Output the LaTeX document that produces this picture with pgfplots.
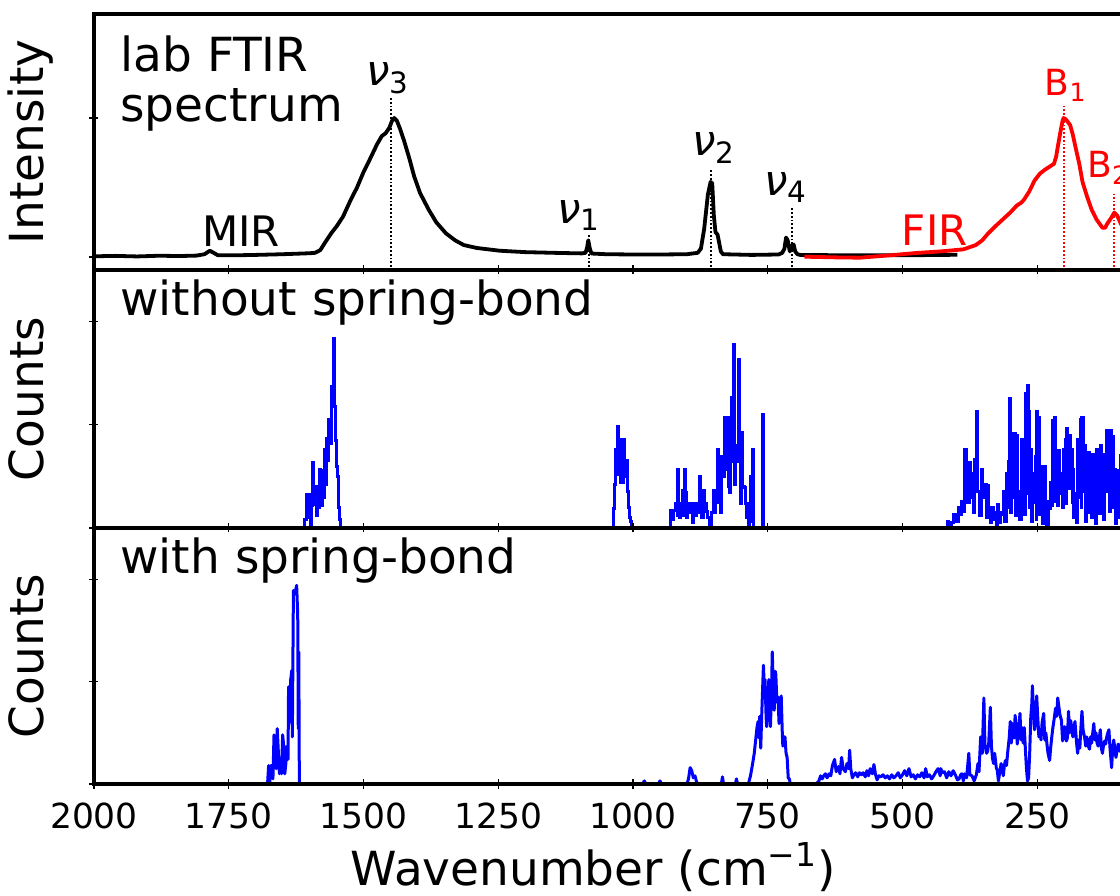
\documentclass[border=0pt]{standalone}
\usepackage{pgfplots}
\pgfplotsset{compat=1.18}
\usepackage{fontspec}
\setmainfont{DejaVu Sans}
\definecolor{pblue}{RGB}{0,0,255}
\definecolor{pred}{RGB}{255,0,0}
\newcommand{\bigf}{\fontsize{23.5}{27}\selectfont}
\newcommand{\annf}{\fontsize{21}{24}\selectfont}
\newcommand{\Bfont}{\fontsize{18}{21}\selectfont}
\newcommand{\tickf}{\fontsize{17.25}{20}\selectfont}
\newcommand{\nus}[1]{\textit{ν}\textsubscript{#1}}
\pgfplotsset{
  panel/.style={
    scale only axis, width=539pt,
    x dir=reverse, xmin=0, xmax=2000,
    xtick={250,500,...,2000},
    axis line style={line width=2pt},
    tick align=center, major tick length=4.5pt,
    every tick/.style={black, line width=0.7pt},
    xtick pos=left, ytick pos=left,
    yticklabels={},
    axis on top,
    /pgf/number format/1000 sep={},
    /pgf/number format/assume math mode=true,
    xticklabel style={font=\tickf, inner sep=0pt, anchor=north, yshift=-7pt},
    every axis y label/.style={at={(rel axis cs:0,0.5)}, xshift=-25pt, rotate=90, anchor=south, inner sep=0pt, text depth=0pt, font=\bigf},
    every axis x label/.style={at={(rel axis cs:0.463,0)}, anchor=base, yshift=-50.5pt, font=\bigf, inner sep=0pt},
  },
  blueh/.style={pblue, line width=1.5pt, const plot, line join=miter},
  bluel/.style={pblue, line width=1.5pt, line join=round},
}
\begin{document}
\begin{tikzpicture}
% ---------------- panel 1 ----------------
\begin{axis}[panel, at={(47pt,312.5pt)}, anchor=south west, height=128pt,
  ymin=-0.0935, ymax=1.748, ytick={0,1}, xticklabels={}, ylabel={Intensity}]
\addplot[black, line width=1.9pt, line join=round] coordinates {
(2000,0.005) (1960,0.008) (1920,0.004) (1880,0.009) (1840,0.007) (1810,0.010)
(1795,0.02) (1785,0.045) (1778,0.03) (1770,0.012) (1740,0.012) (1700,0.015)
(1650,0.02) (1600,0.027) (1590,0.03) (1580,0.05) (1572,0.10) (1560,0.17)
(1550,0.22) (1538,0.29) (1525,0.40) (1512,0.50) (1500,0.61) (1486,0.72)
(1475,0.81) (1466,0.87) (1459,0.89) (1452,0.93) (1447,0.98) (1443,1.00)
(1438,0.98) (1432,0.92) (1425,0.84) (1415,0.71) (1406,0.58) (1395,0.46)
(1379,0.34) (1365,0.25) (1347,0.17) (1330,0.12) (1314,0.086) (1290,0.065)
(1247,0.045) (1200,0.035) (1136,0.029) (1095,0.026) (1088,0.03) (1085,0.07)
(1083,0.12) (1080,0.06) (1077,0.025) (1050,0.02) (1000,0.018) (950,0.018)
(900,0.02) (880,0.03) (874,0.06) (868,0.2) (861,0.45) (856,0.54) (853,0.53)
(850,0.30) (847,0.18) (843,0.16) (840,0.10) (837,0.04) (833,0.02) (780,0.015)
(730,0.018) (723,0.03) (719,0.06) (716,0.14) (713,0.12) (709,0.04) (705,0.08)
(702,0.09) (699,0.04) (695,0.02) (690,0.015) (600,0.012) (500,0.012) (398,0.016)
};
\addplot[pred, line width=1.9pt, line join=round] coordinates {
(682,0.002) (620,-0.003) (579,-0.005) (530,0.01) (474,0.029) (430,0.04)
(387,0.055) (364,0.086) (352,0.12) (341,0.17) (328,0.22) (314,0.27) (300,0.32)
(288,0.37) (280,0.39) (275,0.41) (265,0.47) (255,0.55) (245,0.60) (235,0.63)
(225,0.655) (219,0.67) (215,0.72) (212,0.79) (207,0.90) (203,0.98) (201,1.00)
(197,0.99) (189,0.95) (184,0.88) (179,0.79) (172,0.67) (166,0.54) (158,0.44)
(149,0.34) (140,0.27) (129,0.21) (124,0.21) (120,0.24) (113,0.28) (107,0.32)
(102,0.30) (95,0.24) (85,0.18) (70,0.15) (50,0.12)
};
% marker lines
\addplot[black, densely dotted, line width=0.9pt] coordinates {(1449,-0.1) (1449,1.15)};
\addplot[black, densely dotted, line width=0.9pt] coordinates {(1081,-0.1) (1081,0.17)};
\addplot[black, densely dotted, line width=0.9pt] coordinates {(855,-0.1) (855,0.63)};
\addplot[black, densely dotted, line width=0.9pt] coordinates {(705,-0.1) (705,0.36)};
\addplot[pred, densely dotted, line width=0.9pt] coordinates {(201,-0.1) (201,1.10)};
\addplot[pred, densely dotted, line width=0.9pt] coordinates {(107,-0.1) (107,0.45)};
\node[anchor=south, inner sep=1.5pt, font=\annf] at (axis cs:1455,1.15) {\nus{3}};
\node[anchor=south, inner sep=1pt, font=\annf] at (axis cs:1100,0.17) {\nus{1}};
\node[anchor=south, inner sep=3pt, font=\annf] at (axis cs:850,0.63) {\nus{2}};
\node[anchor=south, inner sep=2pt, font=\annf] at (axis cs:716,0.36) {\nus{4}};
\node[anchor=south, inner sep=1pt, font=\Bfont, text=pred] at (axis cs:197,1.10) {B\textsubscript{1}};
\node[anchor=south, inner sep=5pt, font=\Bfont, text=pred] at (axis cs:118,0.45) {B\textsubscript{2}};
\node[anchor=base, inner sep=0pt, font=\annf] at (axis cs:1727,0.072) {MIR};
\node[anchor=base, inner sep=0pt, font=\annf, text=pred] at (axis cs:440,0.086) {FIR};
\node[anchor=base west, inner sep=0pt, font=\bigf] at (rel axis cs:0,1) [xshift=13pt, yshift=-29pt] {lab FTIR};
\node[anchor=base west, inner sep=0pt, font=\bigf] at (rel axis cs:0,1) [xshift=13pt, yshift=-54pt] {spectrum};
\end{axis}
% ---------------- panel 2 ----------------
\begin{axis}[panel, at={(47pt,183.5pt)}, anchor=south west, height=129pt,
  ymin=0, ymax=25, ytick={0,10,20}, xticklabels={}, ylabel={Counts}]
\addplot[blueh] coordinates {
(1612,0) (1610,0.8) (1608,0.8) (1606,3.2) (1604,1) (1602,3.2) (1600,2) (1598,0)
(1596,2.2) (1594,6.3) (1592,2.3) (1590,4) (1588,1.2) (1586,3.2) (1584,2) (1582,5.7)
(1580,5) (1578,2.2) (1576,5.6) (1574,3) (1572,7.6) (1570,4.2) (1568,8.7) (1566,6.5)
(1564,10.5) (1562,8.2) (1560,13.7) (1558,13) (1556,18.4) (1554,11.8) (1552,8.5)
(1550,6) (1548,5) (1546,2) (1544,0.8) (1542,0)
};
\addplot[blueh] coordinates {
(1039,0) (1037,1.9) (1035,4.2) (1033,7.6) (1031,5.2) (1029,9.8) (1027,8.6) (1025,8.6)
(1023,4.4) (1021,6.2) (1019,4.4) (1017,8.6) (1015,5) (1013,6.5) (1011,3.5) (1009,2)
(1007,1) (1005,0.6) (1003,0)
};
\addplot[blueh] coordinates {
(932,0) (930,1.7) (927,0.8) (924,1.7) (921,2.4) (918,1.2) (917,5.7) (915,2.4) (913,1)
(911,2.4) (909,3.6) (906,1.2) (904,5.7) (902,3.4) (900,1) (898,2.4) (895,1.5) (892,2.4)
(890,0.5) (888,2.4) (885,1.2) (882,2.4) (880,1.5) (877,5) (875,2.4) (872,1) (870,3.6)
(867,2.4) (864,1.6) (861,1) (858,0) (855,1.5) (851,3.6) (848,1.5) (846,2.5) (844,7.6)
(842,3) (840,5.7) (838,1.5) (836,6.9) (834,5) (831,10.7) (829,6) (827,5.7) (825,10.7)
(823,4) (821,3.4) (819,8) (818,12.6) (816,6.4) (814,13.5) (813,17.8) (811,4.2) (809,8)
(806,6.4) (804,16.3) (802,7) (800,2.4) (798,9.3) (796,4) (794,3.9) (792,2.4) (790,1)
(788,2.4) (786,0) (784,0.6) (782,5) (780,3) (778,7.6) (776,0) (761,0) (760,11) (758,0)
};
\addplot[blueh] coordinates {
(420,0) (417,0.6) (414,0) (410,0.5) (405,1.3) (400,0.6) (396,2) (393,1.3) (390,2.6)
(387,1.6) (385,7.6) (382,4) (379,2.5) (376,6.3) (373,3) (371,5.3) (368,1.5) (366,6.6)
(363,11.3) (360,3.5) (357,1.2) (354,5.7) (351,3) (348,4.2) (345,1) (343,4.1) (340,2)
(337,0.5) (335,2) (332,0.8) (329,1.5) (326,0.3) (324,2.3) (321,0.5) (318,1.5) (315,1.3)
(312,3.5) (310,0.6) (307,5.3) (305,2) (303,6.4) (301,12.5) (299,1.5) (297,9.2) (294,3)
(292,9.2) (290,1.2) (288,9) (286,3.5) (283,0.8) (280,8.6) (278,2) (276,5.3) (273,1.3)
(271,13) (269,3.3) (268,13.8) (266,11.3) (264,2) (262,7.6) (260,0.6) (258,5.3) (256,2.5)
(254,6.9) (252,0.8) (251,11.3) (249,3.5) (247,10.7) (245,1.3) (243,6) (241,0.4) (239,3.3)
(237,1.5) (236,6) (234,2.5) (232,0.3) (230,2.6) (228,1.9) (226,4.4) (224,2.2) (222,10.4)
(220,3) (218,10.7) (216,2.6) (214,7) (212,2.2) (210,7.5) (208,3.3) (206,5.3) (204,2)
(202,7.6) (200,4) (198,8.6) (196,2.4) (195,9.6) (193,3.8) (191,9) (189,4) (187,7.6)
(185,2.5) (184,5.7) (182,1) (180,3.3) (178,0.5) (176,8.6) (174,3) (172,5.2) (170,10.5)
(168,2) (167,10.7) (165,3.5) (163,8) (161,0.6) (159,5.3) (157,1.5) (155,7.3) (153,3.3)
(151,3.8) (149,1) (148,7.1) (146,2.8) (144,5.7) (142,0.4) (140,7.6) (138,2.4) (136,6)
(134,1.4) (133,8) (131,3) (129,4.2) (127,0.8) (125,7.1) (123,3.5) (122,9.4) (120,4)
(118,6.6) (116,1.6) (115,9.4) (113,3.3) (111,8.9) (109,2) (107,5.7) (105,0.4) (103,3.6)
(101,1) (100,5.6) (98,2) (95,7) (92,3) (89,8) (86,2.5) (83,6.5) (80,0)
};
\node[anchor=base west, inner sep=0pt, font=\bigf] at (rel axis cs:0,1) [xshift=13pt, yshift=-22.5pt] {without spring-bond};
\end{axis}
% ---------------- panel 3 ----------------
\begin{axis}[panel, at={(47pt,55.5pt)}, anchor=south west, height=128pt,
  ymin=0, ymax=25, ytick={0,10,20}, ylabel={Counts},
  xlabel={Wavenumber (cm\textsuperscript{−1})}]
\addplot[bluel] coordinates {
(1678,0) (1676,1.8) (1674,0) (1672,1.8) (1670,1.8) (1668,0.5) (1666,4.8) (1664,2.5)
(1662,1.5) (1660,5.4) (1658,3.2) (1656,1) (1654,2.5) (1652,1) (1650,4.8) (1648,3.7)
(1646,1) (1644,2) (1642,3.7) (1640,2.4) (1639,9.5) (1637,6) (1635,10.2) (1633,11.1)
(1632,4.6) (1630,18.9) (1628,18.5) (1626,18.9) (1624,19.4) (1622,16.5) (1621,5.4)
(1620,12.9) (1619,0)
};
\addplot[bluel] coordinates {(982,0) (979,0.3) (976,0)};
\addplot[bluel] coordinates {(953,0) (950,0.3) (947,0)};
\addplot[bluel] coordinates {(900,0) (897,0.5) (894,1.6) (891,1.3) (888,0.6) (885,0.8) (882,0.2) (880,0)};
\addplot[bluel] coordinates {(836,0) (834,0.7) (832,0)};
\addplot[bluel] coordinates {(810,0) (808,0.5) (806,0)};
\addplot[bluel] coordinates {
(786,0) (782,0.8) (778,2) (775,3) (773,4) (770,5.5) (768,6.1) (766,4.5) (765,6.6)
(763,3.5) (761,7) (758,11.6) (756,9) (755,10.2) (753,6.5) (752,5.6) (750,8) (748,10.2)
(746,7) (745,5.6) (743,9) (741.6,12.9) (740,10) (738,7.2) (736,11) (735,10.7) (733,8)
(731,8.5) (729,5.9) (727,7) (725,8.6) (723,5) (722,3.7) (720,4.6) (718,4.6) (716,3)
(714,2.6) (712,0.6) (710,0.5) (708,0)
};
\addplot[bluel] coordinates {
(660,0) (655,0.3) (652,0.8) (649,0.5) (646,0.8) (643,1) (640,0.6) (636,1) (633,0.8)
(630,1.8) (626,2.4) (623,1.2) (619,1.7) (616,1) (613,2.6) (610,1.5) (606,1.2) (603,2)
(600,1.5) (598,3.3) (596,1.5) (593,0.6) (590,0.9) (587,1.1) (583,0.7) (580,1.1) (576,0.9)
(573,1.1) (569,0.7) (566,1.3) (563,0.8) (560,1.5) (556,1) (553,1.9) (550,0.9) (547,0.4)
(544,0.8) (540,0.7) (536,0.9) (532,0.6) (528,0.8) (524,0.5) (520,0.9) (516,0.6) (512,0.8)
(508,1.1) (504,0.6) (500,0.9) (496,1.3) (492,0.8) (488,1.5) (484,0.7) (480,0.9) (476,0.5)
(472,0.9) (468,0.7) (464,1.1) (460,0.6) (457,1.5) (454,0.7) (450,0.9) (446,0.5) (442,0.8)
(438,1.2) (434,1.5) (430,0.8) (429,1.5) (426,1.1) (422,1.2) (418,0.6) (414,1.2) (410,0.8)
(406,1.3) (402,0.9) (398,0.4) (395,0.5) (392,0.9) (390,1) (387,0.3) (385,1) (381,0.6)
(377,3) (375,0.9) (371,0.8) (367,0.3) (363,0.9) (360,2) (358,1.2) (355,4.6) (352,3)
(349,8.4) (347,3.8) (344,3) (342,3.2) (340,4) (337,7.5) (335,3.7) (333,2.5) (331,2)
(329,3) (326,1.6) (324,1.3) (322,0.3) (320,1) (317,2) (315,1.4) (313,0.8) (311,1.8)
(309,2.3) (307,1.8) (305,3) (302,4.5) (300,6.1) (298,4) (296,5.9) (293,4.5) (291,6.7)
(289,5.5) (287,3.9) (285,5) (282,6.9) (280,4.3) (278,5.5) (276,4) (274,5.5) (272,3.4)
(270,1.5) (268,0.3) (266,0.6) (264,3) (262,6.5) (260,7.9) (259,9.6) (257,7.2) (255,5.3)
(253,6) (251,8.6) (249,6.5) (247,4.6) (245,5.2) (243,4.3) (241,6) (238,6.9) (236,4.3)
(234,5) (232,3.9) (230,3) (227,2.3) (225,3.6) (223,4.6) (221,5.5) (219,6.2) (216,7.4)
(214,6.6) (212,8.4) (210,7.6) (208,6.8) (205,6.2) (203,4.2) (201,5) (199,5.6) (196,4.2)
(194,4.5) (192,7.1) (190,5) (188,6.2) (186,5.5) (184,4.6) (182,5.5) (180,6.1) (177,4)
(175,3) (173,4.3) (171,3.5) (169,5.5) (167,7.1) (165,5.3) (162,4.5) (160,3.7) (158,4.6)
(156,3.8) (153,3.4) (151,4.6) (149,4) (147,5) (145,5.9) (143,4.3) (141,5) (139,4)
(137,3.7) (135,4.4) (133,5.3) (131,3.5) (129,3) (127,3.8) (125,4.2) (123,3.9) (121,4.6)
(119,5) (117,5.3) (115,3.5) (112,1.6) (110,3.5) (108,4.3) (106,3.4) (104,2.6) (102,3.2)
(100,3.9) (97,3.2) (94,4) (90,3.5) (85,3.7) (80,3)
};
\node[anchor=base west, inner sep=0pt, font=\bigf] at (rel axis cs:0,1) [xshift=13pt, yshift=-22.5pt] {with spring-bond};
\end{axis}
\pgfresetboundingbox
\path[use as bounding box] (0,0) rectangle (560pt,447.5pt);
\end{tikzpicture}
\end{document}
